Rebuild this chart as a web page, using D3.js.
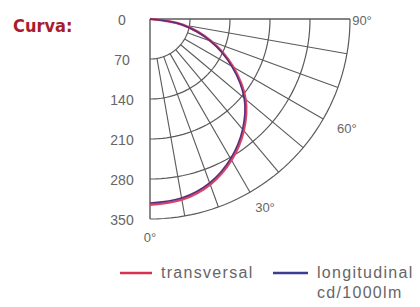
<!DOCTYPE html>
<html>
<head>
<meta charset="utf-8">
<script src="https://cdn.jsdelivr.net/npm/d3@7"></script>
<style>
  body { margin: 0; background: #fff; }
  svg { display: block; }
</style>
</head>
<body>
<svg id="svg"></svg>
<script>
"use strict";
var width = 420;
var height = 307;

// polar data (cd/1000lm), angle measured from the vertical axis
var angles = [0, 10, 20, 30, 40, 50, 60, 70, 80, 90];
var transversal = [325, 321, 308, 285, 255, 218, 168, 114, 58, 0];
var longitudinal = [322, 318, 305, 282, 252, 215, 165, 112, 56, 0];
var ring_ticks = [70, 140, 210, 280, 350];
var spoke_angles = [10, 20, 30, 40, 50, 60, 70, 80];
var angle_labels = [0, 30, 60, 90];

var cx = 150;
var cy = 19;
var rad = Math.PI / 180;

var r = d3.scaleLinear().domain([0, 350]).range([0, 200]);
// d3 radial angle: 0 up, clockwise. our 0deg points down.
var a = function (deg) { return Math.PI - deg * rad; };

var svg = d3.select("#svg")
    .attr("width", width)
    .attr("height", height);

var g = svg.append("g")
    .attr("transform", "translate(" + cx + "," + cy + ")");

var gridColor = "#5a5a5a";

// rings
var ringLine = d3.lineRadial().curve(d3.curveLinear);
g.selectAll("path.ring")
    .data(ring_ticks)
    .enter()
    .append("path")
    .attr("class", "ring")
    .attr("d", function (v) {
        return ringLine(d3.range(0, 91, 2).map(function (d) { return [a(d), r(v)]; }));
    })
    .attr("fill", "none")
    .attr("stroke", gridColor)
    .attr("stroke-width", 1.2);

// spokes
g.selectAll("line.spoke")
    .data(spoke_angles)
    .enter()
    .append("line")
    .attr("class", "spoke")
    .attr("x1", function (d) { return r(70) * Math.sin(d * rad); })
    .attr("y1", function (d) { return r(70) * Math.cos(d * rad); })
    .attr("x2", function (d) { return r(350) * Math.sin(d * rad); })
    .attr("y2", function (d) { return r(350) * Math.cos(d * rad); })
    .attr("stroke", gridColor)
    .attr("stroke-width", 1.1);

// axes (0 and 90)
g.append("line")
    .attr("x1", 0).attr("y1", 0)
    .attr("x2", 0).attr("y2", r(350))
    .attr("stroke", gridColor).attr("stroke-width", 1.4);
g.append("line")
    .attr("x1", 0).attr("y1", 0)
    .attr("x2", r(350)).attr("y2", 0)
    .attr("stroke", gridColor).attr("stroke-width", 1.4);

// radial tick labels
g.selectAll("text.rtick")
    .data([0].concat(ring_ticks))
    .enter()
    .append("text")
    .attr("class", "rtick")
    .attr("x", 122 - cx)
    .attr("y", function (d) { return r(d) + 1; })
    .attr("dy", "0.35em")
    .attr("text-anchor", "middle")
    .style("font", "14px 'Liberation Sans', Arial, sans-serif")
    .attr("fill", "#666")
    .text(function (d) { return d; });

// angle labels
var labelOffset = { 0: [0, 0], 30: [6, 0], 60: [8, 0], 90: [-6, 1] };
g.selectAll("text.atick")
    .data(angle_labels)
    .enter()
    .append("text")
    .attr("class", "atick")
    .attr("x", function (d) { return (r(350) + 18) * Math.sin(d * rad) + labelOffset[d][0]; })
    .attr("y", function (d) { return (r(350) + 18) * Math.cos(d * rad) + labelOffset[d][1]; })
    .attr("dy", "0.35em")
    .attr("text-anchor", "middle")
    .style("font", "13px 'Liberation Sans', Arial, sans-serif")
    .attr("fill", "#666")
    .text(function (d) { return d + "°"; });

// curves
var curve = d3.lineRadial()
    .angle(function (d, i) { return a(angles[i]); })
    .radius(function (d) { return r(d); })
    .curve(d3.curveCardinal);

g.append("path")
    .attr("d", curve(transversal))
    .attr("fill", "none")
    .attr("stroke", "#d8456a")
    .attr("stroke-width", 2.6);

g.append("path")
    .attr("d", curve(longitudinal))
    .attr("fill", "none")
    .attr("stroke", "#5a2f7a")
    .attr("stroke-width", 1.6);

// title
svg.append("text")
    .attr("x", 13)
    .attr("y", 32)
    .style("font", "bold 18px 'Liberation Sans Narrow', 'DejaVu Sans Condensed', sans-serif")
    .attr("fill", "#a71d2d")
    .text("Curva:");

// legend
var legend = svg.append("g").style("font", "16px 'Liberation Sans', Arial, sans-serif");
legend.append("line")
    .attr("x1", 120).attr("x2", 152).attr("y1", 273).attr("y2", 273)
    .attr("stroke", "#d9324c").attr("stroke-width", 2.5);
legend.append("text")
    .attr("x", 161).attr("y", 278)
    .attr("fill", "#666")
    .attr("letter-spacing", "1.3")
    .text("transversal");
legend.append("line")
    .attr("x1", 273).attr("x2", 308).attr("y1", 273).attr("y2", 273)
    .attr("stroke", "#3b3d8e").attr("stroke-width", 2.5);
legend.append("text")
    .attr("x", 317).attr("y", 278)
    .attr("fill", "#666")
    .attr("letter-spacing", "1.3")
    .text("longitudinal");
legend.append("text")
    .attr("x", 317).attr("y", 298)
    .attr("fill", "#666")
    .attr("letter-spacing", "1.3")
    .text("cd/1000lm");
</script>
</body>
</html>
